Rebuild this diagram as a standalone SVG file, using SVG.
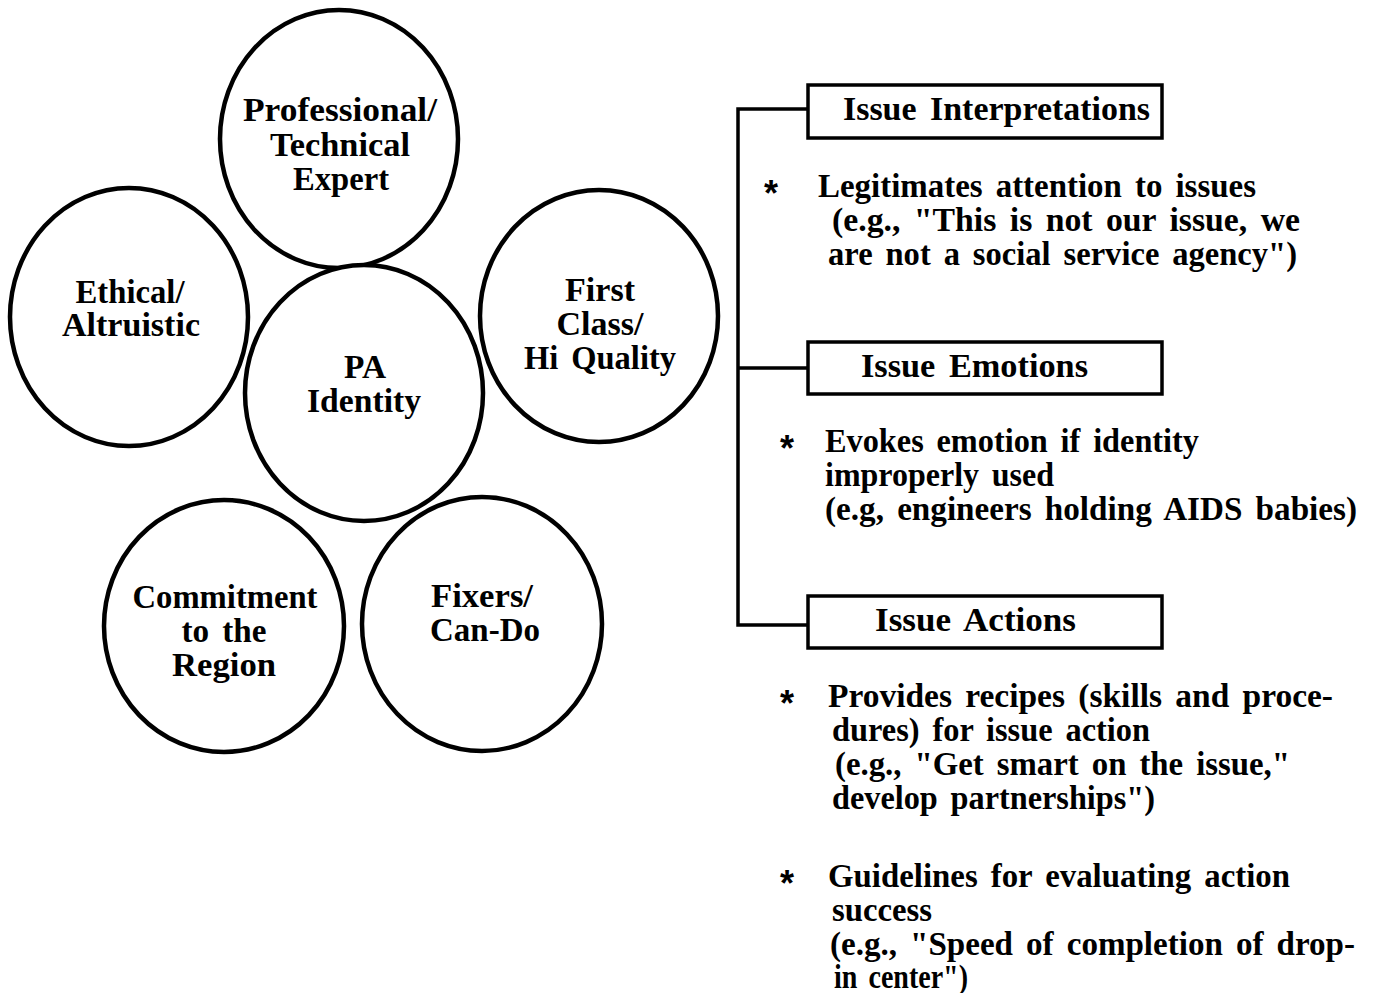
<svg xmlns="http://www.w3.org/2000/svg" width="1374" height="993" viewBox="0 0 1374 993">
<style>
.c{fill:#fff;stroke:#000;stroke-width:4.5}
.b{fill:#fff;stroke:#000;stroke-width:3.5}
.t{font-family:"Liberation Serif","Times New Roman",serif;font-weight:bold;font-size:34px;fill:#000;word-spacing:5px}
.s{font-family:"Liberation Sans",Arial,sans-serif;font-weight:bold;font-size:36px;fill:#000}
.m{text-anchor:middle}
.ln{fill:none;stroke:#000;stroke-width:3.5}
</style>
<rect width="1374" height="993" fill="#fff"/>
<g id="professional">
<ellipse class="c" cx="339" cy="139" rx="119" ry="129"/>
<text class="t m" x="340" y="121" textLength="194" lengthAdjust="spacingAndGlyphs">Professional/</text>
<text class="t m" x="340" y="156" textLength="140" lengthAdjust="spacingAndGlyphs">Technical</text>
<text class="t m" x="341" y="190" textLength="96" lengthAdjust="spacingAndGlyphs">Expert</text>
</g>
<g id="ethical">
<ellipse class="c" cx="129" cy="317" rx="119" ry="129"/>
<text class="t m" x="130" y="303" textLength="109" lengthAdjust="spacingAndGlyphs">Ethical/</text>
<text class="t m" x="131" y="336" textLength="138" lengthAdjust="spacingAndGlyphs">Altruistic</text>
</g>
<g id="firstclass">
<ellipse class="c" cx="599" cy="316" rx="119" ry="126"/>
<text class="t m" x="600" y="301" textLength="70" lengthAdjust="spacingAndGlyphs">First</text>
<text class="t m" x="600" y="335" textLength="87" lengthAdjust="spacingAndGlyphs">Class/</text>
<text class="t m" x="600" y="369" textLength="152" lengthAdjust="spacingAndGlyphs">Hi Quality</text>
</g>
<g id="pa">
<ellipse class="c" cx="364" cy="393" rx="119" ry="128"/>
<text class="t m" x="365" y="378" textLength="42" lengthAdjust="spacingAndGlyphs">PA</text>
<text class="t m" x="364" y="412" textLength="114" lengthAdjust="spacingAndGlyphs">Identity</text>
</g>
<g id="commitment">
<ellipse class="c" cx="224" cy="626" rx="120" ry="126"/>
<text class="t m" x="225" y="608" textLength="185" lengthAdjust="spacingAndGlyphs">Commitment</text>
<text class="t m" x="224" y="642" textLength="85" lengthAdjust="spacingAndGlyphs">to the</text>
<text class="t m" x="224" y="676" textLength="104" lengthAdjust="spacingAndGlyphs">Region</text>
</g>
<g id="fixers">
<ellipse class="c" cx="482" cy="624" rx="120" ry="127"/>
<text class="t m" x="482" y="607" textLength="102" lengthAdjust="spacingAndGlyphs">Fixers/</text>
<text class="t m" x="485" y="641" textLength="110" lengthAdjust="spacingAndGlyphs">Can-Do</text>
</g>
<g id="connectors">
<path class="ln" d="M808 109 H738 V625 H808 M738 368 H808"/>
</g>
<g id="interpretations">
<rect class="b" x="808" y="85" width="354" height="53"/>
<text class="t" x="843" y="120" textLength="307" lengthAdjust="spacingAndGlyphs">Issue Interpretations</text>
<text class="s" x="764" y="206">*</text>
<text class="t" x="818" y="197" textLength="438" lengthAdjust="spacingAndGlyphs">Legitimates attention to issues</text>
<text class="t" x="832" y="231" textLength="468" lengthAdjust="spacingAndGlyphs">(e.g., "This is not our issue, we</text>
<text class="t" x="828" y="265" textLength="469" lengthAdjust="spacingAndGlyphs">are not a social service agency")</text>
</g>
<g id="emotions">
<rect class="b" x="808" y="342" width="354" height="52"/>
<text class="t" x="861" y="377" textLength="227" lengthAdjust="spacingAndGlyphs">Issue Emotions</text>
<text class="s" x="780" y="461">*</text>
<text class="t" x="825" y="452" textLength="374" lengthAdjust="spacingAndGlyphs">Evokes emotion if identity</text>
<text class="t" x="825" y="486" textLength="229" lengthAdjust="spacingAndGlyphs">improperly used</text>
<text class="t" x="825" y="520" textLength="532" lengthAdjust="spacingAndGlyphs">(e.g, engineers holding AIDS babies)</text>
</g>
<g id="actions">
<rect class="b" x="808" y="596" width="354" height="52"/>
<text class="t" x="875" y="631" textLength="201" lengthAdjust="spacingAndGlyphs">Issue Actions</text>
<text class="s" x="780" y="716">*</text>
<text class="t" x="828" y="707" textLength="505" lengthAdjust="spacingAndGlyphs">Provides recipes (skills and proce-</text>
<text class="t" x="832" y="741" textLength="318" lengthAdjust="spacingAndGlyphs">dures) for issue action</text>
<text class="t" x="835" y="775" textLength="455" lengthAdjust="spacingAndGlyphs">(e.g., "Get smart on the issue,"</text>
<text class="t" x="832" y="809" textLength="323" lengthAdjust="spacingAndGlyphs">develop partnerships")</text>
<text class="s" x="780" y="896">*</text>
<text class="t" x="828" y="887" textLength="462" lengthAdjust="spacingAndGlyphs">Guidelines for evaluating action</text>
<text class="t" x="832" y="921" textLength="100" lengthAdjust="spacingAndGlyphs">success</text>
<text class="t" x="830" y="955" textLength="525" lengthAdjust="spacingAndGlyphs">(e.g., "Speed of completion of drop-</text>
<text class="t" x="834" y="988" textLength="134" lengthAdjust="spacingAndGlyphs">in center")</text>
</g>
</svg>
